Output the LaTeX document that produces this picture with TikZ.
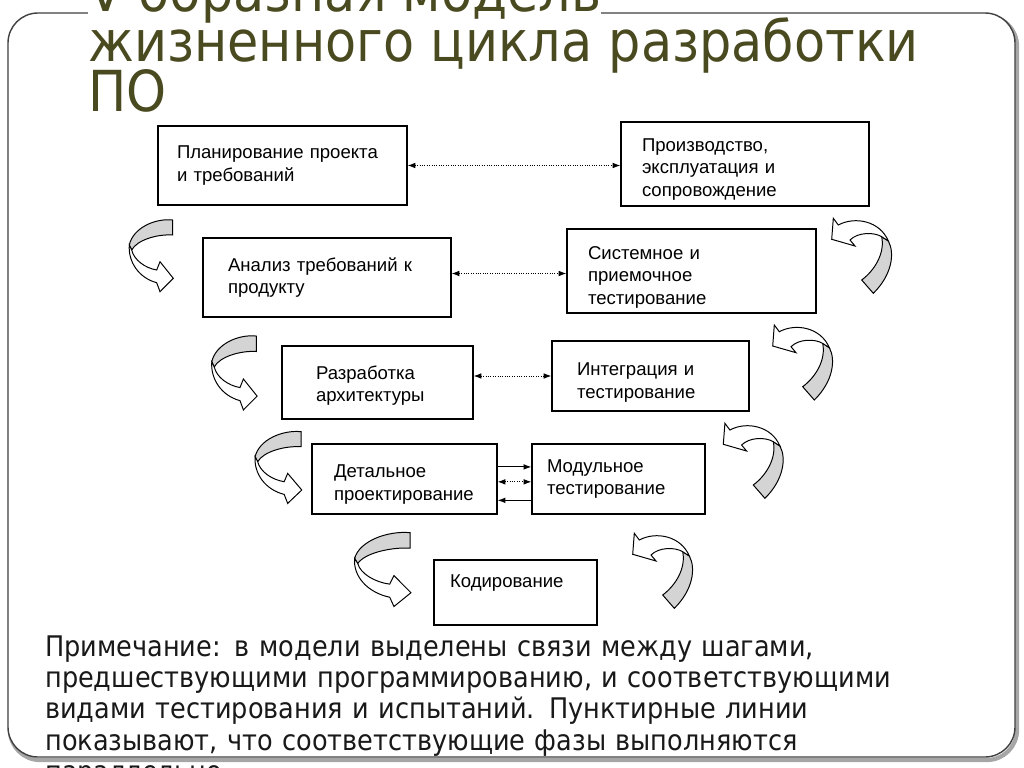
\documentclass[tikz,border=0pt]{standalone}
\usepackage{fontspec}
\setmainfont{Liberation Sans}
\newfontfamily\titlefont[FakeStretch=0.9]{DejaVu Sans}
\usepackage{xcolor}
\usepackage{tikz}
\usetikzlibrary{arrows.meta,calc}

\definecolor{titleolive}{RGB}{74,74,32}
\definecolor{turngray}{RGB}{212,212,212}
\newcommand{\pxu}{0.025cm}
\hyphenpenalty=10000

% curved "next step" arrows: x, y, xscale, yscale
\newcommand{\lturn}[4]{%
  \begin{scope}[shift={(#1,#2)}, xscale=#3, yscale=#4]
    \filldraw[turnback] (45.7,2) .. controls (28,0) and (6,10) .. (2.3,27) -- (4.7,32) .. controls (10,22) and (30,16) .. (45.7,17) -- cycle;
    \filldraw[turnfront] (2.3,27) .. controls (1,44) and (12,60) .. (29.7,64.7) -- (33,73.7) -- (46.3,60.3) -- (33,43.7) -- (29.7,52) .. controls (18,50) and (7,42) .. (4.7,32) -- cycle;
  \end{scope}}
\newcommand{\rturn}[4]{%
  \begin{scope}[shift={(#1,#2)}, xscale=#3, yscale=#4]
    \filldraw[turnback] (43.3,78.3) -- (31.7,65) .. controls (45,55) and (55,38) .. (51.7,21.7) -- (58.3,26) .. controls (65,38) and (62,60) .. (43.3,78.3) -- cycle;
    \filldraw[turnfront] (8.3,10) .. controls (25,1) and (50,6) .. (58.3,26) -- (51.7,21.7) .. controls (44,17) and (28,17) .. (20,25) -- (25,31) -- (1.7,24.3) -- (3.3,3.3) -- cycle;
  \end{scope}}

\begin{document}
\begin{tikzpicture}[x=\pxu, y=-\pxu,
    stage/.style={rectangle, draw, line width=0.8pt, align=left, inner xsep=0pt,
      font=\fontsize{13.2}{16}\selectfont},
    textdown/.style={text height=#1},
    titleline/.style={inner sep=0pt, anchor=base west, text=titleolive,
      font=\titlefont\fontsize{40.2}{35.5}\selectfont},
    notetext/.style={inner sep=0pt, anchor=base west, align=left, text=black!90,
      font=\titlefont\fontsize{20.2}{22.3}\selectfont},
    dotarrow/.style={densely dotted, line width=0.7pt,
      {Latex[length=5.5pt,width=4pt]}-{Latex[length=5.5pt,width=4pt]}},
    solidarrow/.style={line width=0.8pt, -{Latex[length=5.5pt,width=4pt]}},
    turnback/.style={fill=turngray, draw, line width=0.7pt},
    turnfront/.style={fill=white, draw, line width=0.7pt}]
    \clip (0,0) rectangle (1024,768);

    % slide frame
    \draw[line width=3pt, black!35, rounded corners=0.75cm] (10,16) rectangle (1017,760);
    \draw[line width=1pt, black!75, fill=white, rounded corners=0.75cm] (8,13) rectangle (1015,757);

    % title
    \node (title1) [titleline, fill=white] at (88,12) {V-образная модель};
    \node (title2) [titleline] at (88,62) {жизненного цикла разработки};
    \node (title3) [titleline] at (88,112) {ПО};

    % left branch
    \node (plan) [stage, minimum width=249*\pxu, minimum height=79*\pxu, text width=211*\pxu] at (282.5,165.5) {Планирование проекта\\и требований};
    \node (anal) [stage, minimum width=248*\pxu, minimum height=79*\pxu, text width=198*\pxu] at (327,277.5) {Анализ требований к\\продукту};
    \node (arch) [stage, textdown=14.3pt, minimum width=191*\pxu, minimum height=73*\pxu, text width=123*\pxu] at (377.5,382.5) {Разработка\\архитектуры};
    \node (det) [stage, textdown=17.1pt, minimum width=185*\pxu, minimum height=70*\pxu, text width=141*\pxu] at (404.5,479) {Детальное\\проектирование};
    \node (code) [stage, minimum width=163*\pxu, minimum height=65*\pxu, text width=131*\pxu] at (515.5,592.5) {Кодирование\\\mbox{}};

    % right branch
    \node (prod) [stage, textdown=16.4pt, minimum width=248*\pxu, minimum height=84*\pxu, text width=206*\pxu] at (745,164) {Производство,\\эксплуатация и\\сопровождение};
    \node (sys) [stage, textdown=17.8pt, minimum width=249*\pxu, minimum height=84*\pxu, text width=207*\pxu] at (691.5,271) {Системное и\\приемочное\\тестирование};
    \node (integ) [stage, textdown=18.6pt, minimum width=197*\pxu, minimum height=70*\pxu, text width=147*\pxu] at (650.5,376) {Интеграция и\\тестирование};
    \node (unit) [stage, minimum width=173*\pxu, minimum height=70*\pxu, text width=143*\pxu] at (618.5,479) {Модульное\\тестирование};

    % links between matching phases
    \coordinate (analout) at ($(anal.north east)!0.45!(anal.south east)$);
    \draw [dotarrow] (plan.east) -- (plan.east -| prod.west);
    \draw [dotarrow] (analout) -- (analout -| sys.west);
    \draw [dotarrow] (integ.west -| arch.east) -- (integ.west);
    \draw [solidarrow] ($(det.north east)!0.33!(det.south east)$) -- ($(unit.north west)!0.33!(unit.south west)$);
    \draw [dotarrow] ($(det.north east)!0.54!(det.south east)$) -- ($(unit.north west)!0.54!(unit.south west)$);
    \draw [solidarrow] ($(unit.north west)!0.8!(unit.south west)$) -- ($(det.north east)!0.8!(det.south east)$);

    % step arrows
    \lturn{127}{218}{1}{1}
    \lturn{209.4}{334}{1.03}{1.03}
    \lturn{252.7}{429.7}{1.06}{1}
    \lturn{351.7}{530.6}{1.28}{1.03}
    \rturn{830}{215}{1}{1}
    \rturn{771}{321.7}{1}{1}
    \rturn{721.6}{420}{1}{1}
    \rturn{631}{530}{1}{1}

    % note
    \node (note) [notetext, text width=960*\pxu] at (45,656) {Примечание: в модели выделены связи между шагами,\\предшествующими программированию, и соответствующими\\видами тестирования и испытаний. Пунктирные линии\\показывают, что соответствующие фазы выполняются\\параллельно.};
\end{tikzpicture}
\end{document}
